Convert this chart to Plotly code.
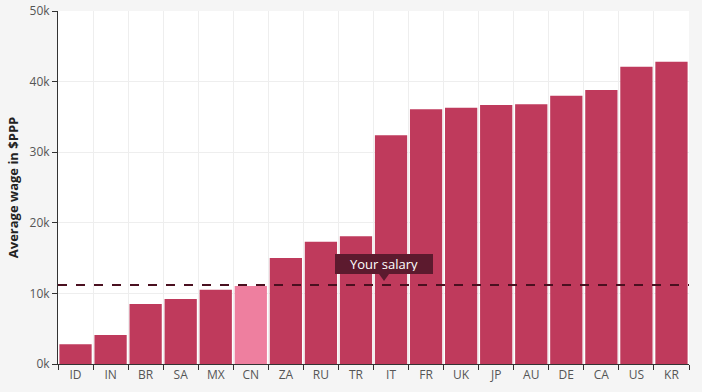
import plotly.graph_objects as go

countries = ["ID", "IN", "BR", "SA", "MX", "CN", "ZA", "RU", "TR", "IT",
             "FR", "UK", "JP", "AU", "DE", "CA", "US", "KR"]
wages = [2800, 4100, 8500, 9200, 10500, 11050, 15000, 17300, 18100, 32400,
         36100, 36300, 36700, 36800, 38000, 38800, 42100, 42800]
highlight = "CN"
your_salary = 11200
label_at = "IT"
y_ticks = [0, 10000, 20000, 30000, 40000, 50000]
y_tick_labels = ["0k", "10k", "20k", "30k", "40k", "50k"]

bar_color = "#bf3a5c"
hi_color = "#ee7f9f"
tip_color = "#5c1a2e"
colors = [hi_color if c == highlight else bar_color for c in countries]

fig = go.Figure()
fig.add_trace(go.Bar(x=countries, y=wages, marker=dict(color=colors, line=dict(width=0)),
                     hoverinfo="x+y"))

fig.add_shape(type="line", xref="paper", x0=0, x1=1, yref="y", y0=your_salary, y1=your_salary,
              line=dict(color="#4a1020", width=2, dash="dash"))

fig.add_annotation(x=label_at, y=your_salary, xref="x", yref="y", text="Your salary",
                   showarrow=False, bgcolor=tip_color, bordercolor=tip_color,
                   font=dict(color="white", size=13, family="Open Sans"),
                   width=92, height=14, borderpad=2, yanchor="bottom", yshift=11, xshift=-7)
# little pointer under the label box
fig.add_shape(type="path", xref="x", yref="y", xsizemode="pixel", ysizemode="pixel",
              xanchor=countries.index(label_at), yanchor=your_salary,
              path="M -12 11 L -2 11 L -7 4 Z", fillcolor=tip_color, line=dict(width=0))

fig.update_layout(
    width=702, height=392,
    margin=dict(l=58, r=13, t=11, b=28, autoexpand=False),
    paper_bgcolor="#f5f5f5", plot_bgcolor="white",
    font=dict(family="Open Sans, DejaVu Sans, sans-serif", size=12, color="#555"),
    bargap=0.08, showlegend=False,
    xaxis=dict(type="category", tickson="boundaries", ticks="outside", ticklen=5,
               tickcolor="#333", showline=True, linecolor="#333", linewidth=1,
               showgrid=True, gridcolor="#eeeeee", gridwidth=1, automargin=False,
               tickfont=dict(size=12, color="#555")),
    yaxis=dict(range=[0, 50000], tickvals=y_ticks, ticktext=y_tick_labels,
               ticks="outside", ticklen=5, tickcolor="#333", automargin=False,
               showline=True, linecolor="#333", linewidth=1,
               showgrid=True, gridcolor="#eeeeee", zeroline=False,
               title=dict(text="<b>Average wage in $PPP</b>", font=dict(size=13, color="#222"),
                          standoff=8),
               tickfont=dict(size=12, color="#555")),
)

fig.write_html("out.html", config={"displayModeBar": False},
               post_script="document.body.style.margin='0';")
